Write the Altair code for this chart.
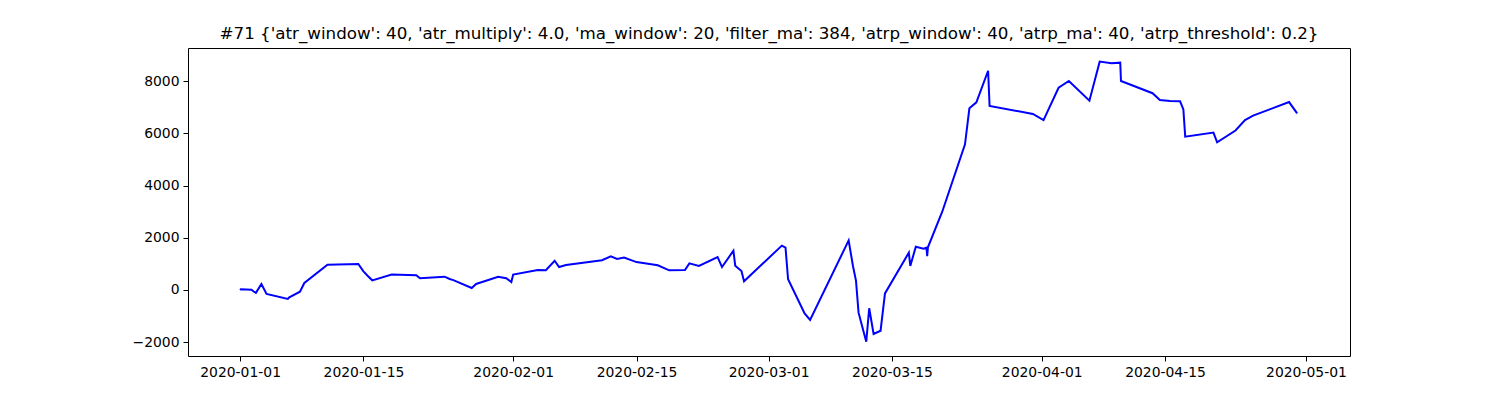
import pandas as pd
import altair as alt

TITLE = ("#71 {'atr_window': 40, 'atr_multiply': 4.0, 'ma_window': 20, 'filter_ma': 384, "
         "'atrp_window': 40, 'atrp_ma': 40, 'atrp_threshold': 0.2}")

dates = [
    "2020-01-01 00:00", "2020-01-01 02:00", "2020-01-02 07:00", "2020-01-02 12:00",
    "2020-01-02 19:00", "2020-01-03 10:00", "2020-01-04 00:00", "2020-01-06 10:00",
    "2020-01-06 14:00", "2020-01-07 19:00", "2020-01-08 07:00", "2020-01-10 22:00",
    "2020-01-14 10:00", "2020-01-15 00:00", "2020-01-15 12:00", "2020-01-16 00:00",
    "2020-01-18 05:00", "2020-01-21 00:00", "2020-01-21 10:00", "2020-01-24 05:00",
    "2020-01-24 19:00", "2020-01-25 05:00", "2020-01-27 07:00", "2020-01-27 19:00",
    "2020-01-30 07:00", "2020-01-31 05:00", "2020-01-31 19:00", "2020-02-01 00:00",
    "2020-02-03 19:00", "2020-02-04 17:00", "2020-02-05 17:00", "2020-02-06 05:00",
    "2020-02-07 00:00", "2020-02-11 02:00", "2020-02-12 02:00", "2020-02-12 19:00",
    "2020-02-13 14:00", "2020-02-15 00:00", "2020-02-17 10:00", "2020-02-18 05:00",
    "2020-02-18 17:00", "2020-02-20 12:00", "2020-02-21 00:00", "2020-02-22 02:00",
    "2020-02-24 05:00", "2020-02-24 17:00", "2020-02-26 00:00", "2020-02-26 05:00",
    "2020-02-26 22:00", "2020-02-27 05:00", "2020-03-02 12:00", "2020-03-02 22:00",
    "2020-03-03 05:00", "2020-03-05 02:00", "2020-03-05 17:00", "2020-03-10 02:00",
    "2020-03-10 14:00", "2020-03-10 22:00", "2020-03-11 05:00", "2020-03-12 02:00",
    "2020-03-12 10:00", "2020-03-12 22:00", "2020-03-13 17:00", "2020-03-14 05:00",
    "2020-03-16 22:00", "2020-03-17 02:00", "2020-03-17 17:00", "2020-03-18 14:00",
    "2020-03-18 22:00", "2020-03-19 00:00", "2020-03-19 02:00", "2020-03-20 17:00",
    "2020-03-23 07:00", "2020-03-23 19:00", "2020-03-24 14:00", "2020-03-25 22:00",
    "2020-03-26 02:00", "2020-03-31 00:00", "2020-04-01 05:00", "2020-04-02 22:00",
    "2020-04-04 02:00", "2020-04-06 10:00", "2020-04-07 14:00", "2020-04-08 22:00",
    "2020-04-09 22:00", "2020-04-10 00:00", "2020-04-13 14:00", "2020-04-14 10:00",
    "2020-04-15 14:00", "2020-04-16 17:00", "2020-04-17 02:00", "2020-04-17 07:00",
    "2020-04-20 12:00", "2020-04-20 22:00", "2020-04-23 00:00", "2020-04-24 02:00",
    "2020-04-25 00:00", "2020-04-29 02:00", "2020-04-30 00:00",
]

equity = [
    0, 30, 10, -50,
    -110, 230, -150, -345,
    -280, -65, 270, 970,
    1000, 715, 535, 370,
    590, 565, 450, 510,
    420, 380, 75, 230,
    510, 450, 305, 590,
    765, 755, 1120, 880,
    960, 1140, 1290, 1190,
    1240, 1070, 945, 830,
    755, 765, 1020, 920,
    1265, 880, 1505, 930,
    730, 335, 1700, 1620,
    410, -895, -1150, 1900,
    900, 360, -870, -1980,
    -700, -1685, -1560, -130,
    1430, 920, 1660, 1580,
    1620, 1300, 1635, 3000,
    5580, 6960, 7190, 8400,
    7050, 6745, 6510, 7750,
    8010, 7255, 8750, 8685,
    8710, 8010, 7540, 7280,
    7240, 7230, 6920, 5875,
    6030, 5660, 6110, 6510,
    6680, 7200, 6770,
]

tick_dates = [(2020, 1, 1), (2020, 1, 15), (2020, 2, 1), (2020, 2, 15), (2020, 3, 1),
              (2020, 3, 15), (2020, 4, 1), (2020, 4, 15), (2020, 5, 1)]
y_ticks = [-2000, 0, 2000, 4000, 6000, 8000]

df = pd.DataFrame({"date": dates, "equity": equity})

x_axis = alt.Axis(
    values=[alt.DateTime(year=y, month=m, date=d) for y, m, d in tick_dates],
    format="%Y-%m-%d", title=None, grid=False, domain=False,
    tickColor="black", tickSize=5, labelPadding=4,
)
y_axis = alt.Axis(
    values=y_ticks, format="d", title=None, grid=False, domain=False,
    tickColor="black", tickSize=5, labelPadding=4,
)

chart = (
    alt.Chart(df)
    .mark_line(color="#0000ff", strokeWidth=2)
    .encode(
        x=alt.X("date:T", axis=x_axis, scale=alt.Scale(domain=[
            alt.DateTime(year=2019, month=12, date=26, hours=2),
            alt.DateTime(year=2020, month=5, date=6, hours=0),
        ])),
        y=alt.Y("equity:Q", axis=y_axis, scale=alt.Scale(domain=[-2529, 9272], nice=False, zero=False)),
    )
    .properties(
        width=1162, height=308,
        title=alt.TitleParams(TITLE, fontSize=16.7, font="DejaVu Sans", fontWeight="normal",
                              color="black", offset=5, anchor="middle"),
        autosize=alt.AutoSizeParams(type="none"),
        padding={"left": 180, "top": 40, "right": 140, "bottom": 36},
    )
    .configure_view(stroke="black", strokeWidth=1)
    .configure_axis(labelFont="DejaVu Sans", labelFontSize=13.9, labelColor="black")
)

chart.save("out.html", embed_options={"renderer": "svg", "actions": False})
